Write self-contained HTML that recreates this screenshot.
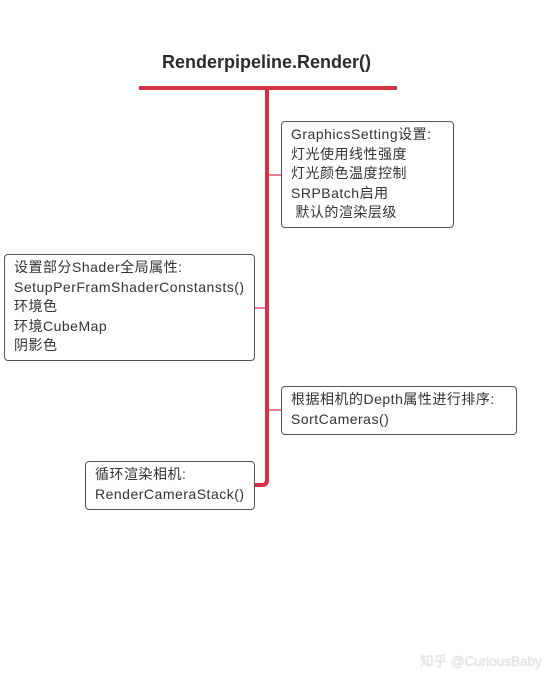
<!DOCTYPE html>
<html><head><meta charset="utf-8"><style>
body{margin:0;width:546px;height:682px;background:#fff;position:relative;overflow:hidden;font-family:"Liberation Sans","Noto Sans CJK SC",sans-serif;}
.t{position:absolute;left:162px;top:52px;font-size:18px;font-weight:bold;color:#2b2b2b;}
.b{position:absolute;border:1px solid #555;border-radius:4px;background:#fff;font-size:14px;letter-spacing:0.5px;line-height:19.5px;color:#333;padding:3px 0 0 9px;box-sizing:border-box;white-space:nowrap;}
.r{position:absolute;background:#d9304a;}
.wm{position:absolute;left:420px;top:650px;font-size:13.5px;color:#e6e6e6;text-shadow:0 0 1px #ccc;white-space:nowrap;}
</style></head><body>
<div class="t">Renderpipeline.Render()</div>
<div class="r" style="left:139px;top:86px;width:258px;height:4px"></div>
<div class="r" style="left:265px;top:90px;width:4px;height:392px"></div>
<svg style="position:absolute;left:0;top:0" width="546" height="682">
<path d="M267 480 Q267 485 262 485 L255 485" stroke="#d9304a" stroke-width="4" fill="none"/>
<path d="M267 173 Q267 175 270 175 L281 175" stroke="#d9304a" stroke-width="1.2" fill="none"/>
<path d="M267 306 Q267 308 264 308 L255 308" stroke="#d9304a" stroke-width="1.2" fill="none"/>
<path d="M267 408 Q267 410 270 410 L281 410" stroke="#d9304a" stroke-width="1.2" fill="none"/>
</svg>
<div class="b" style="left:281px;top:121px;width:173px;height:107px">GraphicsSetting设置:<br>灯光使用线性强度<br>灯光颜色温度控制<br>SRPBatch启用<br>&nbsp;默认的渲染层级</div>
<div class="b" style="left:4px;top:254px;width:251px;height:107px">设置部分Shader全局属性:<br>SetupPerFramShaderConstansts()<br>环境色<br>环境CubeMap<br>阴影色</div>
<div class="b" style="left:281px;top:386px;width:236px;height:49px">根据相机的Depth属性进行排序:<br>SortCameras()</div>
<div class="b" style="left:85px;top:461px;width:170px;height:49px">循环渲染相机:<br>RenderCameraStack()</div>
<div class="wm">知乎 @CuriousBaby</div>
</body></html>
